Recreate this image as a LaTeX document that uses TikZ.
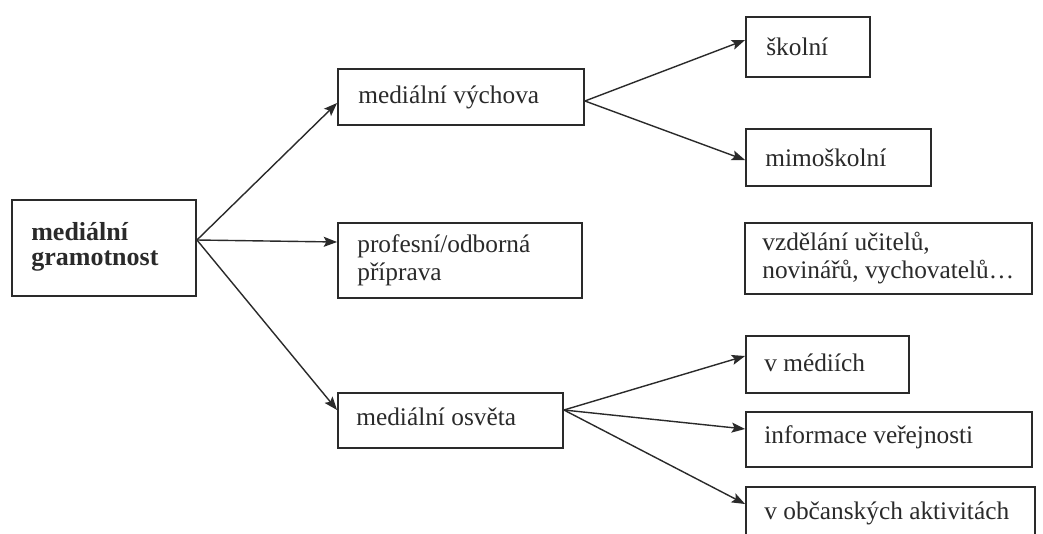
\documentclass[tikz,border=0pt]{standalone}
\usepackage{fontspec}
\setmainfont{Liberation Serif}
\usetikzlibrary{arrows.meta,calc,fit}
\definecolor{ink}{HTML}{2A2A2A}
\begin{document}
\begin{tikzpicture}[x=0.75pt,y=-0.75pt,
  box/.style={draw=ink, line width=1.4pt, inner sep=0pt, fit={#1}},
  txt/.style={anchor=west, align=left, inner sep=0pt, text=ink,
    font=\fontsize{19}{21}\selectfont},
  rtxt/.style={txt, font=\fontsize{19.5}{19}\selectfont\bfseries},
  conn/.style={draw=ink, line width=1.05pt, -{Stealth[length=10pt,width=7.5pt,inset=2pt]}}]
\useasboundingbox (0,0) rectangle (1043,533);
\fill[white] (0,0) rectangle (1043,533);
\clip (0,0) rectangle (1043,533);

% boxes
\node[box={(12,200) (196,296)}] (root) {};
\node[box={(338,69) (584,125)}] (vych) {};
\node[box={(338,223) (582,298)}] (prof) {};
\node[box={(338,393) (563,448)}] (osv) {};
\node[box={(746,17) (870,77)}] (skol) {};
\node[box={(746,129) (931,186)}] (mimo) {};
\node[box={(745,223) (1032,294)}] (vzd) {};
\node[box={(746,336) (909,393)}] (med) {};
\node[box={(746,412) (1032,467)}] (inf) {};
\node[box={(746,487) (1035,540)}] (obc) {};

% texts
\node[rtxt] (t-root) at ($(root.west)+(20,-1)$) {mediální\\gramotnost};
\node[txt] (t-vych) at ($(vych.west)+(21,0)$) {mediální výchova};
\node[txt] (t-prof) at ($(prof.west)+(20,0)$) {profesní/odborná\\příprava};
\node[txt] (t-osv) at ($(osv.west)+(19,-4)$) {mediální osvěta};
\node[txt] (t-skol) at ($(skol.west)+(21,0)$) {školní};
\node[txt] (t-mimo) at ($(mimo.west)+(20,0)$) {mimoškolní};
\node[txt] (t-vzd) at ($(vzd.west)+(18,0)$) {vzdělání učitelů,\\novinářů, vychovatelů…};
\node[txt] (t-med) at ($(med.west)+(19,-2)$) {v médiích};
\node[txt] (t-inf) at ($(inf.west)+(19,-2)$) {informace veřejnosti};
\node[txt] (t-obc) at ($(obc.west)+(19,0)$) {v občanských aktivitách};

% connectors
\coordinate (rootout) at ($(root.east)+(0,-8)$);
\coordinate (vychout) at ($(vych.east)+(0,4)$);
\coordinate (osvout) at ($(osv.east)+(0,-10.5)$);
\draw[conn] (rootout) -- ($(vych.west)+(0,6)$);
\draw[conn] (rootout) -- ($(prof.west)+(0,-18.5)$);
\draw[conn] (rootout) -- ($(osv.west)+(0,-10.5)$);
\draw[conn] (vychout) -- ($(skol.west)+(0,-7)$);
\draw[conn] (vychout) -- ($(mimo.west)+(0,2.5)$);
\draw[conn] (osvout) -- ($(med.west)+(0,-8.5)$);
\draw[conn] (osvout) -- ($(inf.west)+(0,-10.5)$);
\draw[conn] (osvout) -- ($(obc.west)+(0,-9.5)$);
\end{tikzpicture}
\end{document}
